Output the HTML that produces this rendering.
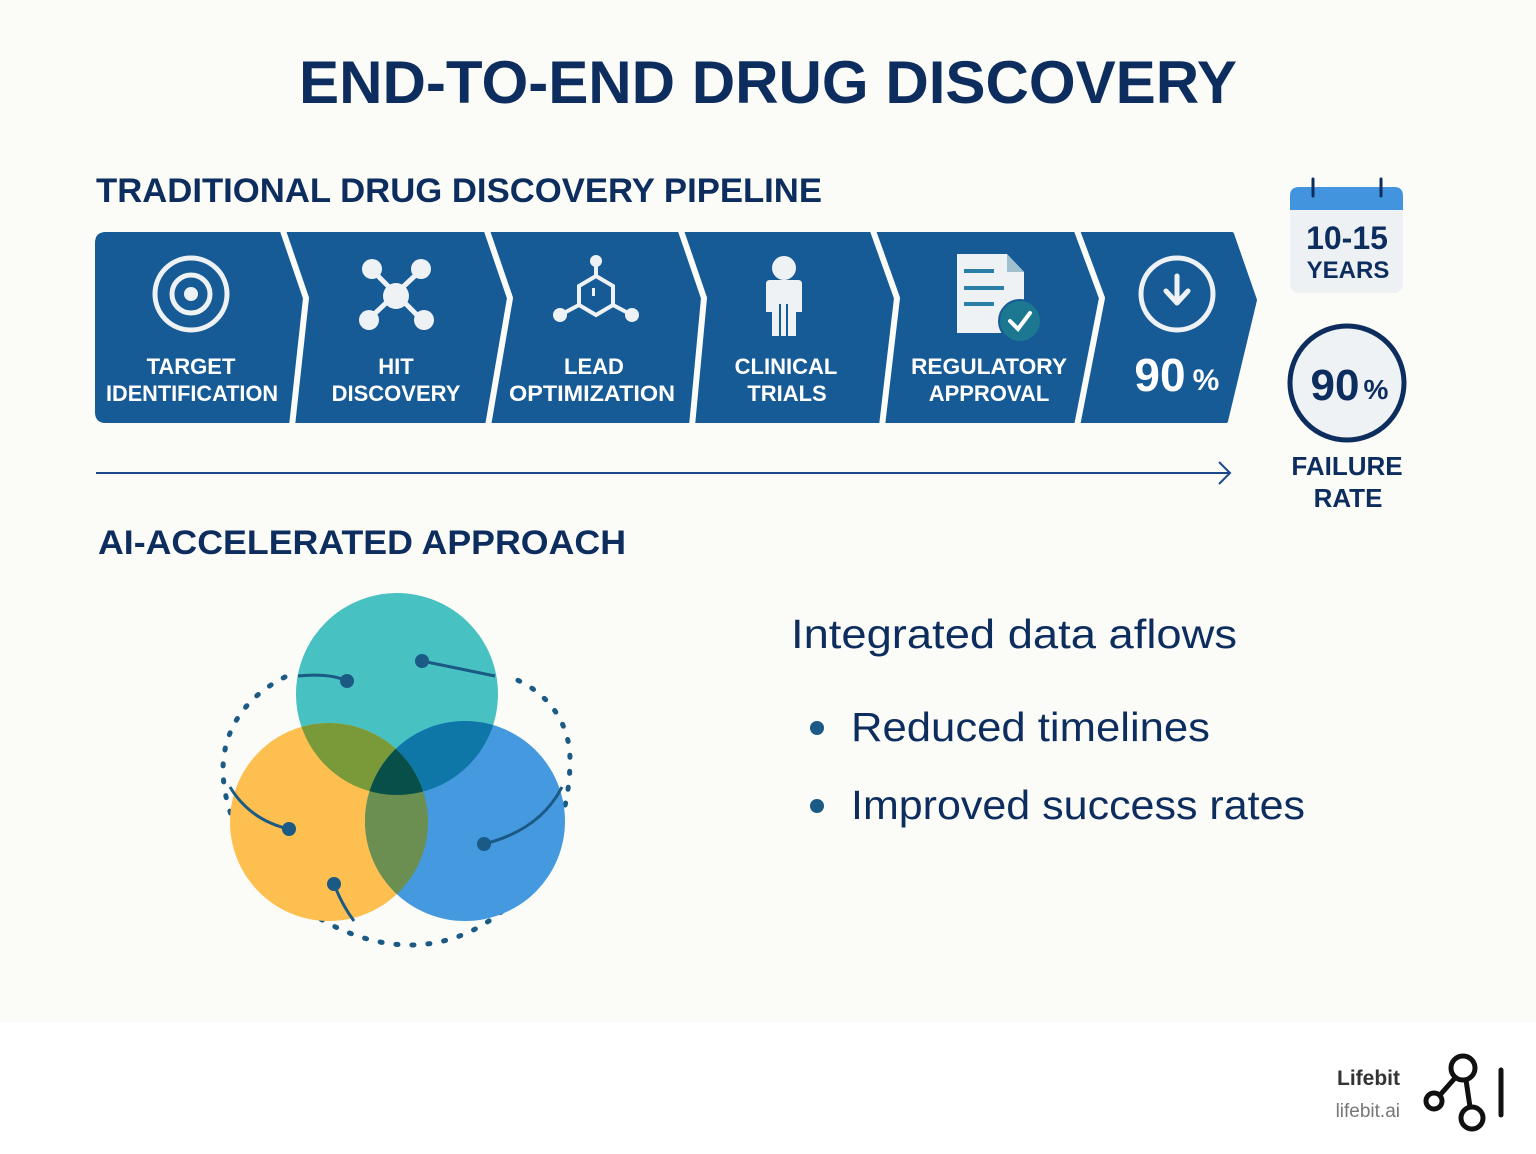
<!DOCTYPE html>
<html><head><meta charset="utf-8"><style>
html,body{margin:0;padding:0;background:#fbfbf7;}
svg{display:block}
text{font-family:"Liberation Sans",sans-serif;}
</style></head><body>
<svg width="1536" height="1154" viewBox="0 0 1536 1154" xmlns="http://www.w3.org/2000/svg">
<rect width="1536" height="1154" fill="#fbfbf7"/>
<rect y="1022" width="1536" height="132" fill="#ffffff"/>

<text x="768" y="103" text-anchor="middle" font-size="60" font-weight="bold" fill="#0d2d5e" textLength="938" lengthAdjust="spacingAndGlyphs">END-TO-END DRUG DISCOVERY</text>
<text x="96" y="202" font-size="34" font-weight="bold" fill="#0d2d5e" textLength="726" lengthAdjust="spacingAndGlyphs">TRADITIONAL DRUG DISCOVERY PIPELINE</text>
<text x="98" y="554" font-size="34" font-weight="bold" fill="#0d2d5e" textLength="528" lengthAdjust="spacingAndGlyphs">AI-ACCELERATED APPROACH</text>

<path d="M106,234 L1232,234 L1255,300 L1226,421 L106,421 Q97,421 97,412 L97,243 Q97,234 106,234 Z" fill="#165a96" stroke="#165a96" stroke-width="4" stroke-linejoin="round"/>
<g fill="none" stroke="#fbfbf7" stroke-width="6" stroke-linejoin="round">
<path d="M282,228 L306,298 L292,426"/>
<path d="M486,228 L510,298 L488,426"/>
<path d="M680,228 L704,298 L692,426"/>
<path d="M872,228 L897,298 L882,426"/>
<path d="M1076,228 L1102,298 L1077,426"/>
</g>

<g fill="none" stroke="#eef2f4" stroke-width="5">
<circle cx="191" cy="294" r="36"/><circle cx="191" cy="294" r="19"/>
</g>
<circle cx="191" cy="294" r="7" fill="#eef2f4"/>
<g stroke="#eef2f4" stroke-width="5"><line x1="372" y1="270" x2="421" y2="319"/><line x1="421" y1="270" x2="369" y2="319"/></g>
<g fill="#eef2f4"><circle cx="396" cy="296" r="13"/><circle cx="372" cy="269" r="10"/><circle cx="421" cy="269" r="10"/><circle cx="369" cy="320" r="10"/><circle cx="424" cy="320" r="10"/></g>
<g stroke="#eef2f4" stroke-width="4" fill="none"><path d="M596,276 L613,286 L613,305 L596,315 L579,305 L579,286 Z"/><line x1="596" y1="262" x2="596" y2="276"/><line x1="579" y1="305" x2="562" y2="314"/><line x1="613" y1="305" x2="630" y2="314"/></g>
<g fill="#eef2f4"><circle cx="596" cy="261" r="6"/><circle cx="560" cy="315" r="7"/><circle cx="632" cy="315" r="7"/><rect x="592" y="288" width="3" height="8"/></g>
<g fill="#eef2f4"><circle cx="784" cy="268" r="12"/><path d="M766,284 Q766,280 770,280 L798,280 Q802,280 802,284 L802,312 L796,312 L796,336 L772,336 L772,312 L766,312 Z"/></g>
<rect x="779" y="304" width="2" height="32" fill="#165a96"/><rect x="786" y="304" width="2" height="32" fill="#165a96"/>
<path d="M957,254 L1007,254 L1024,272 L1024,333 L957,333 Z" fill="#eef2f4"/>
<path d="M1007,254 L1024,272 L1007,272 Z" fill="#9fc1cf"/>
<g fill="#2a7fa8"><rect x="964" y="269" width="30" height="4"/><rect x="964" y="286" width="40" height="4"/><rect x="964" y="302" width="30" height="4"/></g>
<circle cx="1020" cy="321" r="21" fill="#1c7891" stroke="#165a96" stroke-width="2"/>
<path d="M1010,321 L1018,329 L1030,313" fill="none" stroke="#fff" stroke-width="4" stroke-linecap="round"/>
<circle cx="1177" cy="294" r="36" fill="none" stroke="#eef2f4" stroke-width="5"/>
<path d="M1177,276 L1177,303 M1166,291 L1177,303 L1188,291" fill="none" stroke="#eef2f4" stroke-width="5" stroke-linecap="round" stroke-linejoin="round"/>

<g fill="#ffffff" font-weight="bold" font-size="22" text-anchor="middle">
<text x="191" y="374">TARGET</text><text x="192" y="401" textLength="172" lengthAdjust="spacingAndGlyphs">IDENTIFICATION</text>
<text x="396" y="374">HIT</text><text x="396" y="401">DISCOVERY</text>
<text x="594" y="374">LEAD</text><text x="592" y="401" textLength="166" lengthAdjust="spacingAndGlyphs">OPTIMIZATION</text>
<text x="786" y="374">CLINICAL</text><text x="787" y="401">TRIALS</text>
<text x="989" y="374" textLength="156" lengthAdjust="spacingAndGlyphs">REGULATORY</text><text x="989" y="401">APPROVAL</text>
<text x="1160" y="391" font-size="46">90</text><text x="1206" y="390" font-size="30">%</text>
</g>

<line x1="96" y1="473" x2="1229" y2="473" stroke="#1a4a8a" stroke-width="2"/>
<path d="M1219,462 L1230,473 L1219,484" fill="none" stroke="#1a4a8a" stroke-width="2"/>

<rect x="1290" y="187" width="113" height="106" rx="9" fill="#edf1f3"/>
<path d="M1290,210 L1290,196 Q1290,187 1299,187 L1394,187 Q1403,187 1403,196 L1403,210 Z" fill="#4394de"/>
<g stroke="#0d2d5e" stroke-width="3" stroke-linecap="round"><line x1="1313" y1="179" x2="1313" y2="196"/><line x1="1381" y1="179" x2="1381" y2="196"/></g>
<text x="1347" y="249" text-anchor="middle" font-size="32" font-weight="bold" fill="#0d2d5e">10-15</text>
<text x="1348" y="278" text-anchor="middle" font-size="24" font-weight="bold" fill="#0d2d5e">YEARS</text>
<circle cx="1347" cy="383" r="57" fill="#eef2f4" stroke="#0d2d5e" stroke-width="5"/>
<text x="1335" y="400" text-anchor="middle" font-size="44" font-weight="bold" fill="#0d2d5e">90</text>
<text x="1376" y="399" text-anchor="middle" font-size="28" font-weight="bold" fill="#0d2d5e">%</text>
<text x="1347" y="475" text-anchor="middle" font-size="26" font-weight="bold" fill="#0d2d5e">FAILURE</text>
<text x="1348" y="507" text-anchor="middle" font-size="26" font-weight="bold" fill="#0d2d5e">RATE</text>

<defs>
<clipPath id="ct"><circle cx="397" cy="694" r="101"/></clipPath>
<clipPath id="co"><circle cx="329" cy="822" r="99"/></clipPath>
</defs>
<path d="M285,677 C245,697 223,730 223,770 C224,860 320,945 410,945 C500,945 570,860 570,760 C570,720 545,690 510,677" fill="none" stroke="#1a5a85" stroke-width="5" stroke-dasharray="2 14" stroke-linecap="round"/>
<circle cx="397" cy="694" r="101" fill="#48c1c3"/>
<circle cx="329" cy="822" r="99" fill="#fdbf4f"/>
<circle cx="465" cy="821" r="100" fill="#4499df"/>
<g clip-path="url(#ct)"><circle cx="329" cy="822" r="99" fill="#7a9a3a"/><circle cx="465" cy="821" r="100" fill="#0e77a8"/></g>
<g clip-path="url(#co)"><circle cx="465" cy="821" r="100" fill="#6a8f50"/></g>
<g clip-path="url(#ct)"><g clip-path="url(#co)"><circle cx="465" cy="821" r="100" fill="#084f4a"/></g></g>
<g fill="none" stroke="#1a5a85" stroke-width="3">
<path d="M298,676 Q330,673 347,681"/>
<path d="M422,661 L495,676"/>
<path d="M230,787 Q250,820 289,829"/>
<path d="M334,884 Q342,905 354,921"/>
<path d="M484,844 Q540,830 562,787"/>
</g>
<g fill="#1a5a85"><circle cx="347" cy="681" r="7"/><circle cx="422" cy="661" r="7"/><circle cx="289" cy="829" r="7"/><circle cx="334" cy="884" r="7"/><circle cx="484" cy="844" r="7"/></g>

<text x="791" y="648" font-size="41" fill="#0d2d5e" textLength="446" lengthAdjust="spacingAndGlyphs">Integrated data aflows</text>
<circle cx="817" cy="728" r="7" fill="#1a5a85"/>
<circle cx="817" cy="806" r="7" fill="#1a5a85"/>
<text x="851" y="741" font-size="41" fill="#0d2d5e" textLength="359" lengthAdjust="spacingAndGlyphs">Reduced timelines</text>
<text x="851" y="819" font-size="41" fill="#0d2d5e" textLength="454" lengthAdjust="spacingAndGlyphs">Improved success rates</text>

<text x="1400" y="1085" text-anchor="end" font-size="21" font-weight="bold" fill="#333">Lifebit</text>
<text x="1400" y="1117" text-anchor="end" font-size="19" fill="#777">lifebit.ai</text>
<g fill="none" stroke="#111" stroke-width="5">
<circle cx="1463" cy="1068" r="12"/><circle cx="1434" cy="1101" r="8"/><circle cx="1472" cy="1118" r="11"/>
<line x1="1455" y1="1078" x2="1440" y2="1095"/><line x1="1466" y1="1080" x2="1470" y2="1107"/>
</g>
<line x1="1501" y1="1070" x2="1501" y2="1115" stroke="#111" stroke-width="5" stroke-linecap="round"/>
</svg>
</body></html>
